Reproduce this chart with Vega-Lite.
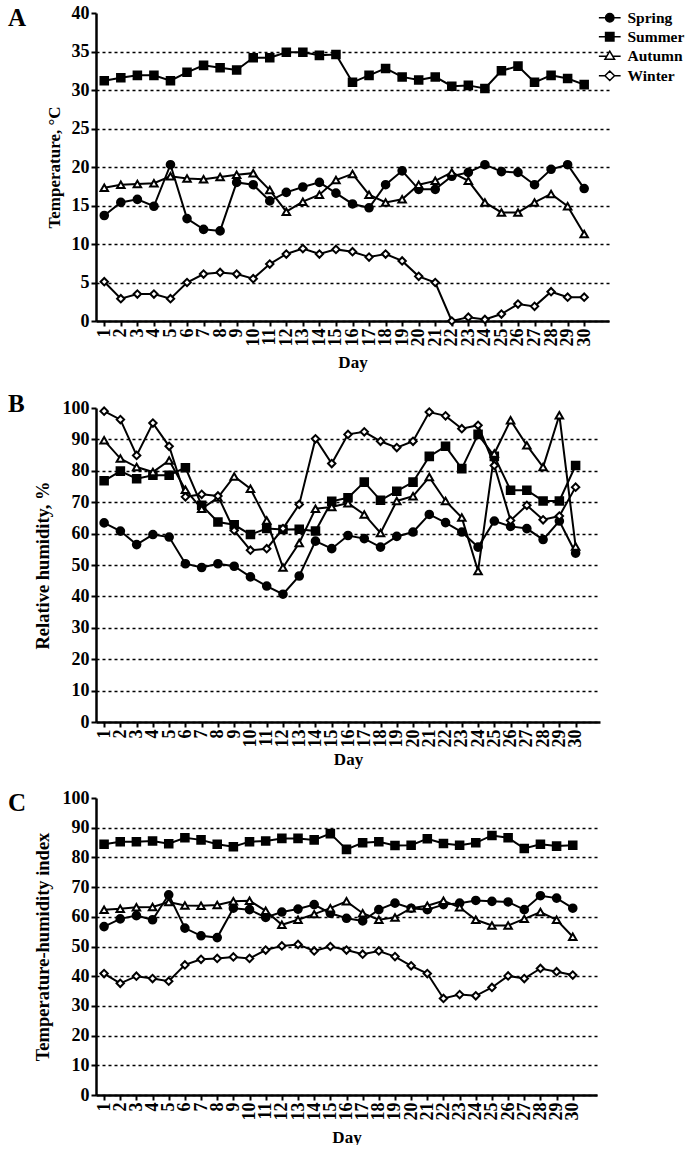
{
  "$schema": "https://vega.github.io/schema/vega-lite/v6.json",
  "padding": {"left": 8, "top": 4, "right": 0, "bottom": 0},
  "config": {
    "view": {"stroke": null},
    "font": "Liberation Serif",
    "axis": {"domainColor": "black", "domainWidth": 2.5, "tickColor": "black", "tickWidth": 2, "tickSize": 5, "labelFont": "Liberation Serif", "labelFontWeight": "bold", "labelColor": "black", "labelFontSize": 18, "titleFont": "Liberation Serif", "titleFontWeight": "bold", "titleColor": "black", "titleFontSize": 17},
    "axisY": {"gridColor": "black", "gridDash": [3, 3], "gridWidth": 1.3, "labelPadding": 2, "titlePadding": 8},
    "axisX": {"grid": false, "labelAngle": -90, "labelPadding": 2, "titlePadding": 4, "labelOverlap": false},
    "title": {"anchor": "start", "frame": "group", "fontSize": 25, "font": "Liberation Serif", "fontWeight": "bold", "color": "black", "dx": -88},
    "legend": {"title": null, "orient": "none", "legendX": 506, "legendY": -3, "symbolSize": 70, "labelFont": "Liberation Serif", "labelFontWeight": "bold", "labelFontSize": 15.5, "labelColor": "black", "labelOffset": 10, "rowPadding": 2},
    "concat": {"spacing": 22}
  },
  "resolve": {"scale": {"shape": "independent", "fill": "independent", "size": "independent"}},
  "datasets": {
    "temp": [
      {"day": 1, "Spring": 13.7, "Summer": 31.2, "Autumn": 17.3, "Winter": 5.1},
      {"day": 2, "Spring": 15.4, "Summer": 31.6, "Autumn": 17.7, "Winter": 2.9},
      {"day": 3, "Spring": 15.8, "Summer": 31.9, "Autumn": 17.8, "Winter": 3.5},
      {"day": 4, "Spring": 14.9, "Summer": 31.9, "Autumn": 17.9, "Winter": 3.5},
      {"day": 5, "Spring": 20.3, "Summer": 31.2, "Autumn": 18.8, "Winter": 2.9},
      {"day": 6, "Spring": 13.3, "Summer": 32.3, "Autumn": 18.5, "Winter": 5.0},
      {"day": 7, "Spring": 11.9, "Summer": 33.2, "Autumn": 18.4, "Winter": 6.1},
      {"day": 8, "Spring": 11.7, "Summer": 32.9, "Autumn": 18.7, "Winter": 6.3},
      {"day": 9, "Spring": 18.0, "Summer": 32.6, "Autumn": 19.0, "Winter": 6.1},
      {"day": 10, "Spring": 17.7, "Summer": 34.2, "Autumn": 19.2, "Winter": 5.5},
      {"day": 11, "Spring": 15.6, "Summer": 34.2, "Autumn": 17.0, "Winter": 7.4},
      {"day": 12, "Spring": 16.7, "Summer": 34.9, "Autumn": 14.2, "Winter": 8.7},
      {"day": 13, "Spring": 17.4, "Summer": 34.9, "Autumn": 15.5, "Winter": 9.4},
      {"day": 14, "Spring": 18.0, "Summer": 34.5, "Autumn": 16.4, "Winter": 8.7},
      {"day": 15, "Spring": 16.6, "Summer": 34.6, "Autumn": 18.3, "Winter": 9.3},
      {"day": 16, "Spring": 15.2, "Summer": 31.0, "Autumn": 19.1, "Winter": 9.0},
      {"day": 17, "Spring": 14.7, "Summer": 31.9, "Autumn": 16.4, "Winter": 8.3},
      {"day": 18, "Spring": 17.7, "Summer": 32.8, "Autumn": 15.4, "Winter": 8.7},
      {"day": 19, "Spring": 19.5, "Summer": 31.7, "Autumn": 15.8, "Winter": 7.8},
      {"day": 20, "Spring": 17.1, "Summer": 31.3, "Autumn": 17.7, "Winter": 5.8},
      {"day": 21, "Spring": 17.1, "Summer": 31.7, "Autumn": 18.2, "Winter": 5.0},
      {"day": 22, "Spring": 18.8, "Summer": 30.5, "Autumn": 19.3, "Winter": 0.0},
      {"day": 23, "Spring": 19.3, "Summer": 30.6, "Autumn": 18.2, "Winter": 0.5},
      {"day": 24, "Spring": 20.3, "Summer": 30.2, "Autumn": 15.4, "Winter": 0.2},
      {"day": 25, "Spring": 19.4, "Summer": 32.5, "Autumn": 14.1, "Winter": 0.9},
      {"day": 26, "Spring": 19.3, "Summer": 33.1, "Autumn": 14.1, "Winter": 2.2},
      {"day": 27, "Spring": 17.7, "Summer": 31.0, "Autumn": 15.4, "Winter": 1.9},
      {"day": 28, "Spring": 19.7, "Summer": 31.9, "Autumn": 16.5, "Winter": 3.8},
      {"day": 29, "Spring": 20.3, "Summer": 31.5, "Autumn": 14.9, "Winter": 3.1},
      {"day": 30, "Spring": 17.2, "Summer": 30.7, "Autumn": 11.3, "Winter": 3.1}
    ],
    "rh": [
      {"day": 1, "Spring": 63.4, "Summer": 76.8, "Autumn": 89.7, "Winter": 99.0},
      {"day": 2, "Spring": 60.8, "Summer": 79.9, "Autumn": 83.9, "Winter": 96.3},
      {"day": 3, "Spring": 56.5, "Summer": 77.5, "Autumn": 81.2, "Winter": 84.9},
      {"day": 4, "Spring": 59.7, "Summer": 78.6, "Autumn": 79.6, "Winter": 95.2},
      {"day": 5, "Spring": 58.9, "Summer": 78.6, "Autumn": 83.3, "Winter": 87.8},
      {"day": 6, "Spring": 50.4, "Summer": 81.0, "Autumn": 74.0, "Winter": 71.7},
      {"day": 7, "Spring": 49.2, "Summer": 69.0, "Autumn": 67.9, "Winter": 72.5},
      {"day": 8, "Spring": 50.4, "Summer": 63.7, "Autumn": 71.5, "Winter": 72.0},
      {"day": 9, "Spring": 49.6, "Summer": 62.8, "Autumn": 78.2, "Winter": 61.0},
      {"day": 10, "Spring": 46.2, "Summer": 59.7, "Autumn": 74.3, "Winter": 54.7},
      {"day": 11, "Spring": 43.3, "Summer": 61.6, "Autumn": 64.2, "Winter": 55.2},
      {"day": 12, "Spring": 40.7, "Summer": 61.3, "Autumn": 49.2, "Winter": 61.6},
      {"day": 13, "Spring": 46.5, "Summer": 61.4, "Autumn": 57.0, "Winter": 69.3},
      {"day": 14, "Spring": 57.6, "Summer": 60.8, "Autumn": 67.9, "Winter": 90.2},
      {"day": 15, "Spring": 55.2, "Summer": 70.3, "Autumn": 68.5, "Winter": 82.3},
      {"day": 16, "Spring": 59.4, "Summer": 71.4, "Autumn": 69.7, "Winter": 91.6},
      {"day": 17, "Spring": 58.4, "Summer": 76.4, "Autumn": 66.1, "Winter": 92.4},
      {"day": 18, "Spring": 55.7, "Summer": 70.6, "Autumn": 60.2, "Winter": 89.4},
      {"day": 19, "Spring": 59.1, "Summer": 73.5, "Autumn": 70.4, "Winter": 87.4},
      {"day": 20, "Spring": 60.5, "Summer": 76.4, "Autumn": 71.9, "Winter": 89.4},
      {"day": 21, "Spring": 66.1, "Summer": 84.6, "Autumn": 78.0, "Winter": 98.7},
      {"day": 22, "Spring": 63.5, "Summer": 87.8, "Autumn": 70.4, "Winter": 97.5},
      {"day": 23, "Spring": 60.5, "Summer": 80.7, "Autumn": 65.1, "Winter": 93.4},
      {"day": 24, "Spring": 55.7, "Summer": 91.6, "Autumn": 48.1, "Winter": 94.5},
      {"day": 25, "Spring": 64.0, "Summer": 84.6, "Autumn": 85.5, "Winter": 81.7},
      {"day": 26, "Spring": 62.3, "Summer": 73.8, "Autumn": 96.1, "Winter": 64.2},
      {"day": 27, "Spring": 61.6, "Summer": 73.8, "Autumn": 88.1, "Winter": 69.0},
      {"day": 28, "Spring": 58.1, "Summer": 70.4, "Autumn": 81.2, "Winter": 64.4},
      {"day": 29, "Spring": 64.0, "Summer": 70.4, "Autumn": 97.7, "Winter": 65.6},
      {"day": 30, "Spring": 53.8, "Summer": 81.7, "Autumn": 55.9, "Winter": 74.8}
    ],
    "thi": [
      {"day": 1, "Spring": 56.7, "Summer": 84.4, "Autumn": 62.4, "Winter": 40.9},
      {"day": 2, "Spring": 59.3, "Summer": 85.3, "Autumn": 62.7, "Winter": 37.6},
      {"day": 3, "Spring": 60.4, "Summer": 85.3, "Autumn": 63.2, "Winter": 40.0},
      {"day": 4, "Spring": 59.0, "Summer": 85.5, "Autumn": 63.3, "Winter": 39.2},
      {"day": 5, "Spring": 67.4, "Summer": 84.6, "Autumn": 65.0, "Winter": 38.3},
      {"day": 6, "Spring": 56.2, "Summer": 86.6, "Autumn": 63.8, "Winter": 43.8},
      {"day": 7, "Spring": 53.6, "Summer": 85.9, "Autumn": 63.7, "Winter": 45.7},
      {"day": 8, "Spring": 53.0, "Summer": 84.4, "Autumn": 64.0, "Winter": 46.0},
      {"day": 9, "Spring": 62.9, "Summer": 83.6, "Autumn": 65.2, "Winter": 46.5},
      {"day": 10, "Spring": 62.4, "Summer": 85.3, "Autumn": 65.4, "Winter": 46.0},
      {"day": 11, "Spring": 59.8, "Summer": 85.5, "Autumn": 62.0, "Winter": 48.8},
      {"day": 12, "Spring": 61.6, "Summer": 86.4, "Autumn": 57.3, "Winter": 50.2},
      {"day": 13, "Spring": 62.6, "Summer": 86.4, "Autumn": 59.0, "Winter": 50.7},
      {"day": 14, "Spring": 64.1, "Summer": 85.9, "Autumn": 60.9, "Winter": 48.5},
      {"day": 15, "Spring": 61.2, "Summer": 88.0, "Autumn": 62.9, "Winter": 50.0},
      {"day": 16, "Spring": 59.5, "Summer": 82.7, "Autumn": 65.2, "Winter": 48.8},
      {"day": 17, "Spring": 58.6, "Summer": 84.9, "Autumn": 61.2, "Winter": 47.4},
      {"day": 18, "Spring": 62.4, "Summer": 85.3, "Autumn": 59.0, "Winter": 48.5},
      {"day": 19, "Spring": 64.6, "Summer": 84.0, "Autumn": 59.8, "Winter": 46.6},
      {"day": 20, "Spring": 62.9, "Summer": 84.1, "Autumn": 62.9, "Winter": 43.5},
      {"day": 21, "Spring": 62.4, "Summer": 86.3, "Autumn": 63.7, "Winter": 40.9},
      {"day": 22, "Spring": 64.1, "Summer": 84.7, "Autumn": 65.4, "Winter": 32.5},
      {"day": 23, "Spring": 64.6, "Summer": 84.1, "Autumn": 63.2, "Winter": 33.8},
      {"day": 24, "Spring": 65.5, "Summer": 84.9, "Autumn": 59.0, "Winter": 33.4},
      {"day": 25, "Spring": 65.2, "Summer": 87.4, "Autumn": 57.1, "Winter": 36.2},
      {"day": 26, "Spring": 65.0, "Summer": 86.6, "Autumn": 57.1, "Winter": 40.1},
      {"day": 27, "Spring": 62.4, "Summer": 83.0, "Autumn": 59.3, "Winter": 39.2},
      {"day": 28, "Spring": 67.1, "Summer": 84.4, "Autumn": 61.6, "Winter": 42.6},
      {"day": 29, "Spring": 66.3, "Summer": 83.8, "Autumn": 59.0, "Winter": 41.5},
      {"day": 30, "Spring": 62.9, "Summer": 84.1, "Autumn": 53.3, "Winter": 40.4}
    ]
  },
  "vconcat": [
    {
      "title": {"text": "A", "offset": -27},
      "width": 513,
      "height": 308,
      "data": {"name": "temp"},
      "transform": [{"fold": ["Spring", "Summer", "Autumn", "Winter"], "as": ["season", "value"]}],
      "encoding": {
        "x": {"field": "day", "type": "quantitative", "scale": {"domain": [0.5, 31.5], "nice": false, "zero": false}, "axis": {"title": "Day", "titlePadding": 8, "values": [1,2,3,4,5,6,7,8,9,10,11,12,13,14,15,16,17,18,19,20,21,22,23,24,25,26,27,28,29,30]}},
        "y": {"field": "value", "type": "quantitative", "scale": {"domain": [0, 40], "nice": false}, "axis": {"title": "Temperature, °C", "values": [0,5,10,15,20,25,30,35,40], "gridOpacity": {"condition": {"test": "datum.value >= 40", "value": 0}, "value": 1}}}
      },
      "resolve": {"scale": {"shape": "independent", "fill": "independent", "size": "independent"}},
      "layer": [
        {"mark": {"type": "line", "color": "black", "strokeWidth": 2}, "encoding": {"detail": {"field": "season"}}},
        {"mark": {"type": "point", "filled": true, "opacity": 1, "stroke": "black", "strokeWidth": 2},
         "encoding": {
           "shape": {"field": "season", "type": "nominal", "scale": {"domain": ["Spring", "Summer", "Autumn", "Winter"], "range": ["circle", "square", "triangle-up", "diamond"]}, "legend": null},
           "fill": {"field": "season", "type": "nominal", "scale": {"domain": ["Spring", "Summer", "Autumn", "Winter"], "range": ["black", "black", "white", "white"]}, "legend": null},
           "size": {"field": "season", "type": "nominal", "scale": {"domain": ["Spring", "Summer", "Autumn", "Winter"], "range": [58, 55, 95, 110]}, "legend": null}
         }},
        {"transform": [{"filter": "datum.day > 99"}],
         "mark": {"type": "point", "filled": true, "opacity": 1, "stroke": "black", "strokeWidth": 2},
         "encoding": {
           "shape": {"field": "season", "type": "nominal", "scale": {"domain": ["Spring", "Summer", "Autumn", "Winter"], "range": ["M-2.6,0H2.6M1,0A1,1 0 1,1 -1,0A1,1 0 1,1 1,0Z", "M-2.6,0H2.6M-1,-1H1V1H-1Z", "M-2.6,0.1H-0.7M0.7,0.1H2.6M0,-1.1L1.15,0.85H-1.15Z", "M-2.6,0H-1.15M1.15,0H2.6M0,-1.15L1.15,0L0,1.15L-1.15,0Z"]}},
           "fill": {"field": "season", "type": "nominal", "scale": {"domain": ["Spring", "Summer", "Autumn", "Winter"], "range": ["black", "black", "white", "white"]}},
           "size": {"field": "season", "type": "nominal", "scale": {"domain": ["Spring", "Summer", "Autumn", "Winter"], "range": [70, 70, 70, 70]}}
         }}
      ]
    },
    {
      "title": {"text": "B", "offset": -18},
      "width": 504,
      "height": 314,
      "data": {"name": "rh"},
      "transform": [{"fold": ["Spring", "Summer", "Autumn", "Winter"], "as": ["season", "value"]}],
      "encoding": {
        "x": {"field": "day", "type": "quantitative", "scale": {"domain": [0.5, 31.5], "nice": false, "zero": false}, "axis": {"title": "Day", "values": [1,2,3,4,5,6,7,8,9,10,11,12,13,14,15,16,17,18,19,20,21,22,23,24,25,26,27,28,29,30]}},
        "y": {"field": "value", "type": "quantitative", "scale": {"domain": [0, 100], "nice": false}, "axis": {"title": "Relative humidity, %", "titleFontSize": 18.5, "titlePadding": 10, "values": [0,10,20,30,40,50,60,70,80,90,100], "gridOpacity": {"condition": {"test": "datum.value >= 100", "value": 0}, "value": 1}}}
      },
      "layer": [
        {"mark": {"type": "line", "color": "black", "strokeWidth": 2}, "encoding": {"detail": {"field": "season"}}},
        {"mark": {"type": "point", "filled": true, "opacity": 1, "stroke": "black", "strokeWidth": 2},
         "encoding": {
           "shape": {"field": "season", "type": "nominal", "scale": {"domain": ["Spring", "Summer", "Autumn", "Winter"], "range": ["circle", "square", "triangle-up", "diamond"]}, "legend": null},
           "fill": {"field": "season", "type": "nominal", "scale": {"domain": ["Spring", "Summer", "Autumn", "Winter"], "range": ["black", "black", "white", "white"]}, "legend": null},
           "size": {"field": "season", "type": "nominal", "scale": {"domain": ["Spring", "Summer", "Autumn", "Winter"], "range": [58, 55, 95, 110]}, "legend": null}
         }}
      ]
    },
    {
      "title": {"text": "C", "offset": -27},
      "width": 501,
      "height": 297,
      "data": {"name": "thi"},
      "transform": [{"fold": ["Spring", "Summer", "Autumn", "Winter"], "as": ["season", "value"]}],
      "encoding": {
        "x": {"field": "day", "type": "quantitative", "scale": {"domain": [0.5, 31.5], "nice": false, "zero": false}, "axis": {"title": "Day", "titlePadding": 9, "values": [1,2,3,4,5,6,7,8,9,10,11,12,13,14,15,16,17,18,19,20,21,22,23,24,25,26,27,28,29,30]}},
        "y": {"field": "value", "type": "quantitative", "scale": {"domain": [0, 100], "nice": false}, "axis": {"title": "Temperature-humidity index", "titleFontSize": 18.5, "titlePadding": 10, "values": [0,10,20,30,40,50,60,70,80,90,100], "gridOpacity": {"condition": {"test": "datum.value >= 100", "value": 0}, "value": 1}}}
      },
      "layer": [
        {"mark": {"type": "line", "color": "black", "strokeWidth": 2}, "encoding": {"detail": {"field": "season"}}},
        {"mark": {"type": "point", "filled": true, "opacity": 1, "stroke": "black", "strokeWidth": 2},
         "encoding": {
           "shape": {"field": "season", "type": "nominal", "scale": {"domain": ["Spring", "Summer", "Autumn", "Winter"], "range": ["circle", "square", "triangle-up", "diamond"]}, "legend": null},
           "fill": {"field": "season", "type": "nominal", "scale": {"domain": ["Spring", "Summer", "Autumn", "Winter"], "range": ["black", "black", "white", "white"]}, "legend": null},
           "size": {"field": "season", "type": "nominal", "scale": {"domain": ["Spring", "Summer", "Autumn", "Winter"], "range": [58, 55, 95, 110]}, "legend": null}
         }}
      ]
    }
  ]
}
